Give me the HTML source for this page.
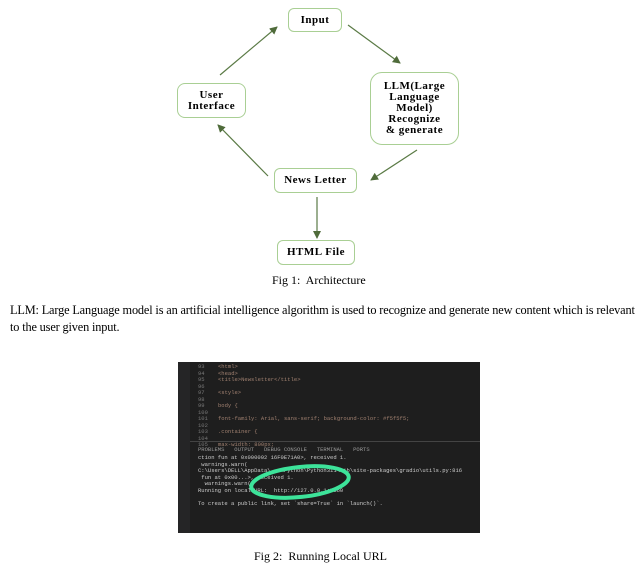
<!DOCTYPE html>
<html><head><style>
body{margin:0;width:637px;height:568px;background:#fff;position:relative;overflow:hidden;font-family:"Liberation Serif",serif;}
.b{position:absolute;border:1.5px solid #a9cf94;border-radius:6px;background:#fff;font-weight:bold;font-size:11px;text-align:center;display:flex;align-items:center;justify-content:center;letter-spacing:0.5px;line-height:11px;box-sizing:border-box;}
.t{position:absolute;font-size:12px;color:#000;}
.sc{position:absolute;left:178px;top:362px;width:302px;height:171px;background:#1e1e1e;overflow:hidden;font-family:"Liberation Mono",monospace;font-size:5.5px;color:#ccc;}
.sc div{position:absolute;white-space:nowrap;}
</style></head><body>
<svg width="637" height="300" style="position:absolute;left:0;top:0">
<defs><marker id="a" markerWidth="8" markerHeight="8" refX="7" refY="4" orient="auto" markerUnits="userSpaceOnUse"><path d="M0,0 L8,4 L0,8z" fill="#4f6b3a"/></marker></defs>
<g stroke="#5a7a45" stroke-width="1.2" marker-end="url(#a)">
<line x1="220" y1="75" x2="277" y2="27"/>
<line x1="348" y1="25" x2="400" y2="63"/>
<line x1="417" y1="150" x2="371" y2="180"/>
<line x1="268" y1="176" x2="218" y2="125"/>
<line x1="317" y1="197" x2="317" y2="238"/>
</g></svg>
<div class="b" style="left:288px;top:8px;width:54px;height:24px">Input</div>
<div class="b" style="left:177px;top:83px;width:69px;height:35px;border-radius:8px">User<br>Interface</div>
<div class="b" style="left:370px;top:72px;width:89px;height:73px;border-radius:12px">LLM(Large<br>Language<br>Model)<br>Recognize<br>&amp; generate</div>
<div class="b" style="left:274px;top:168px;width:83px;height:25px">News Letter</div>
<div class="b" style="left:277px;top:240px;width:78px;height:25px">HTML File</div>
<div class="t" style="left:272px;top:273px">Fig 1:&nbsp; Architecture</div>
<div class="t" style="left:10px;top:302px;width:627px;line-height:17px;font-size:12.3px;letter-spacing:-0.15px">LLM: Large Language model is an artificial intelligence algorithm is used to recognize and generate new content which is relevant to the user given input.</div>
<div class="sc">
<div style="left:0;top:0;width:12px;height:171px;background:#252526"></div>
<div style="left:12px;top:79px;width:290px;height:1px;background:#444"></div>
<div style="left:20px;top:2px;color:#777;line-height:6.5px">93<br>94<br>95<br>96<br>97<br>98<br>99<br>100<br>101<br>102<br>103<br>104<br>105</div>
<div style="left:40px;top:2px;color:#a08070;line-height:6.5px">&lt;html&gt;<br>&lt;head&gt;<br>&lt;title&gt;Newsletter&lt;/title&gt;<br><br>&lt;style&gt;<br><br>body {<br><br>font-family: Arial, sans-serif; background-color: #f5f5f5;<br><br>.container {<br><br>max-width: 800px;</div>
<div style="left:20px;top:84px;color:#999">PROBLEMS &nbsp; OUTPUT &nbsp; DEBUG CONSOLE &nbsp; TERMINAL &nbsp; PORTS</div>
<div style="left:20px;top:93px;line-height:6.5px">ction fun at 0x000002 16F0E71A0&gt;, received 1.<br>&nbsp;warnings.warn(<br>C:\Users\DELL\AppData\...\Python\Python311\Lib\site-packages\gradio\utils.py:816<br>&nbsp;fun at 0x00...&gt;, received 1.<br>&nbsp;&nbsp;warnings.warn(<br>Running on local URL:&nbsp; http://127.0.0.1:7860<br><br>To create a public link, set `share=True` in `launch()`.</div>
</div>
<svg width="637" height="568" style="position:absolute;left:0;top:0"><ellipse cx="300" cy="482" rx="49" ry="15" fill="none" stroke="#3de39a" stroke-width="4" transform="rotate(-6 300 482)"/></svg>
<div class="t" style="left:254px;top:549px">Fig 2:&nbsp; Running Local URL</div>
</body></html>
